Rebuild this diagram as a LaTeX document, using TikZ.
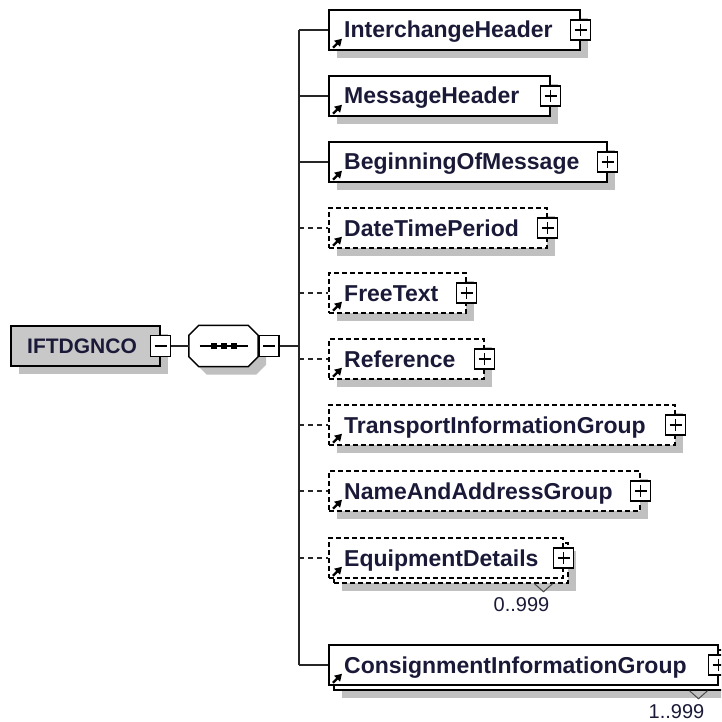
\documentclass[tikz,border=0pt]{standalone}
\usepackage{fontspec}
\setmainfont{Liberation Sans}
\usetikzlibrary{shadows,arrows.meta,calc}
\definecolor{shadowgray}{HTML}{C0C0C0}
\definecolor{rootgray}{HTML}{C8C8C8}
\definecolor{navytext}{HTML}{1A1A38}

\tikzset{
  softshadow/.style={drop shadow={shadow xshift=#1,shadow yshift=-#1,fill=shadowgray,opacity=1}},
  softshadow/.default=8pt,
  boxbase/.style={anchor=west, minimum height=40pt, inner sep=0pt, fill=white, draw=black, line width=1.5pt},
  mandbox/.style={boxbase, softshadow},
  optbox/.style={boxbase, softshadow, dash pattern=on 5pt off 3pt},
  mandmulti/.style={boxbase, softshadow=13pt, general shadow={shadow xshift=5pt,shadow yshift=-5pt,draw=black,fill=white,line width=1.5pt}},
  optmulti/.style={boxbase, softshadow=13pt, general shadow={shadow xshift=5pt,shadow yshift=-5pt,draw=black,fill=white,line width=1.5pt,dash pattern=on 5pt off 3pt}, dash pattern=on 5pt off 3pt},
  plusbox/.style={draw=black, fill=white, solid, line width=1.5pt, minimum width=20pt, minimum height=20pt, inner sep=0pt,
    path picture={\draw[line width=1.5pt] ([xshift=4pt]path picture bounding box.west) -- ([xshift=-4pt]path picture bounding box.east)
      ([yshift=-4pt]path picture bounding box.north) -- ([yshift=4pt]path picture bounding box.south);}},
  minusbox/.style={draw=black, fill=white, solid, line width=1.5pt, minimum width=20pt, minimum height=21pt, inner sep=0pt,
    path picture={\draw[line width=1.5pt] ([xshift=4pt]path picture bounding box.west) -- ([xshift=-4pt]path picture bounding box.east);}},
  nametext/.style={font=\bfseries\fontsize{23}{27}\selectfont, text=navytext, inner sep=0pt, anchor=base west},
  multtext/.style={font=\fontsize{20}{24}\selectfont, text=navytext, inner sep=0pt, anchor=base east},
  mandline/.style={line width=1.5pt, draw=black!85},
  optline/.style={mandline, dash pattern=on 5pt off 4pt},
  boxicon/.style={solid, line width=2.2pt, -{Triangle[length=7pt,width=8pt]}}
}

\begin{document}
\begin{tikzpicture}[x=1pt,y=-1pt]
\useasboundingbox (0,0) rectangle (721,722);
\clip (0,0) rectangle (721,722);

% root element and its sequence
\node[boxbase, softshadow, fill=rootgray, minimum width=149pt] (root) at (10,346) {};
\node[nametext, font=\bfseries\fontsize{21}{24}\selectfont] (rootname) at ([xshift=17pt,yshift=-7pt]root.west) {IFTDGNCO};
\node[minusbox] (rootm) at (root.east) {};
\node[minimum width=69pt, minimum height=41pt, inner sep=0pt] (seq) at (223.5,346) {};
\draw[line width=1.5pt, fill=white, softshadow] ([xshift=10pt]seq.north west) -- ([xshift=-10pt]seq.north east) -- ([yshift=-10pt]seq.north east)
  -- ([yshift=10pt]seq.south east) -- ([xshift=-10pt]seq.south east) -- ([xshift=10pt]seq.south west)
  -- ([yshift=10pt]seq.south west) -- ([yshift=-10pt]seq.north west) -- cycle;
\draw[line width=1.5pt] ([xshift=-24pt]seq.center) -- ([xshift=24pt]seq.center);
\foreach \d in {-10,0,10} \fill ([xshift=\d pt]seq.center) +(-3pt,-3pt) rectangle +(3pt,3pt);
\node[minusbox, anchor=west] (seqm) at (seq.east) {};
\coordinate (trunk) at (299,346);
\draw[mandline] (rootm.east) -- (seq.west);
\draw[mandline] (seqm.east) -- (trunk);

% children
\foreach \elem/\cy/\r/\bs/\ls [count=\i] in {
  InterchangeHeader/30/579/mandbox/mandline,
  MessageHeader/96/549/mandbox/mandline,
  BeginningOfMessage/162/606/mandbox/mandline,
  DateTimePeriod/228/546/optbox/optline,
  FreeText/293/465/optbox/optline,
  Reference/359/483/optbox/optline,
  TransportInformationGroup/425/674/optbox/optline,
  NameAndAddressGroup/491/639/optbox/optline,
  EquipmentDetails/558/562/optmulti/optline,
  ConsignmentInformationGroup/665/717/mandmulti/mandline}
{
  \pgfmathsetmacro\bw{\r-328}
  \node[\bs, minimum width=\bw pt] (b\i) at (328,\cy) {};
  \node[nametext] (t\i) at ([xshift=16pt,yshift=-8pt]b\i.west) {\elem};
  \node[plusbox] (p\i) at (b\i.east) {};
  \draw[boxicon] ([xshift=5pt,yshift=3pt]b\i.south west) -- ([xshift=14pt,yshift=12pt]b\i.south west);
  \draw[\ls] (trunk |- b\i.west) -- (b\i.west);
}
\draw[mandline] (trunk |- b1.west) -- (trunk |- b10.west);

% occurrences
\foreach \i/\m in {9/0..999, 10/1..999} {
  \draw[line width=1pt, black!70] ([xshift=-29pt,yshift=-5pt]b\i.south east) -- ([xshift=-20pt,yshift=-13pt]b\i.south east) -- ([xshift=-11pt,yshift=-5pt]b\i.south east);
  \node[multtext] (m\i) at ([xshift=-14pt,yshift=-33pt]b\i.south east) {\m};
}
\end{tikzpicture}
\end{document}
